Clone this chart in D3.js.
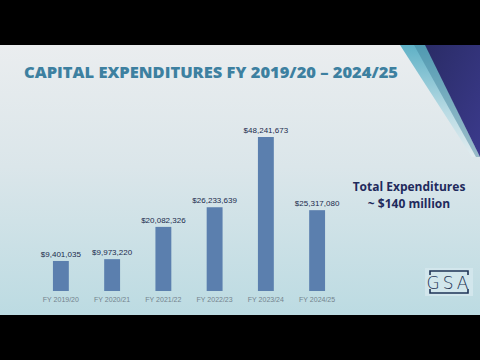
<!DOCTYPE html>
<html>
<head>
<meta charset="utf-8">
<script src="https://cdn.jsdelivr.net/npm/d3@7"></script>
<style>
  body { margin: 0; background: #000; }
  svg { display: block; }
</style>
</head>
<body>
<script>
var width = 480, height = 360;

// data
var years = ["FY 2019/20", "FY 2020/21", "FY 2021/22", "FY 2022/23", "FY 2023/24", "FY 2024/25"];
var spend = [9401035, 9973220, 20082326, 26233639, 48241673, 25317080];
var totalLines = ["Total Expenditures", "~ $140 million"];

var svg = d3.select("body").append("svg")
    .attr("width", width)
    .attr("height", height);

var defs = svg.append("defs");

var bg = defs.append("linearGradient").attr("id", "bg")
    .attr("x1", 0).attr("y1", 0).attr("x2", 0).attr("y2", 1);
bg.append("stop").attr("offset", "0%").attr("stop-color", "#eaedef");
bg.append("stop").attr("offset", "45%").attr("stop-color", "#dbe6ea");
bg.append("stop").attr("offset", "100%").attr("stop-color", "#bcdbe2");

var navy = defs.append("linearGradient").attr("id", "navy")
    .attr("x1", 0).attr("y1", 0).attr("x2", 1).attr("y2", 1);
navy.append("stop").attr("offset", "0%").attr("stop-color", "#2a2c66");
navy.append("stop").attr("offset", "100%").attr("stop-color", "#3b3a8c");

var teal = defs.append("linearGradient").attr("id", "teal")
    .attr("x1", 0).attr("y1", 0).attr("x2", 0).attr("y2", 1);
teal.append("stop").attr("offset", "0%").attr("stop-color", "#5fb1c6");
teal.append("stop").attr("offset", "60%").attr("stop-color", "#b9dbe4");
teal.append("stop").attr("offset", "100%").attr("stop-color", "#e2ecef");

// slide area between the black bands
var slideTop = 45, slideBottom = 315;
svg.append("rect")
    .attr("x", 0).attr("y", slideTop)
    .attr("width", width).attr("height", slideBottom - slideTop)
    .attr("fill", "url(#bg)");

// corner decoration
var line = d3.line();
svg.append("path")
    .attr("d", line([[400, slideTop], [426, slideTop], [480, 157], [472, 157]]) + "Z")
    .attr("fill", "url(#teal)");
svg.append("path")
    .attr("d", line([[414, slideTop], [426, slideTop], [480, 157], [476, 157]]) + "Z")
    .attr("fill", "#3f7f9a").attr("opacity", 0.45);
svg.append("path")
    .attr("d", line([[425, slideTop], [480, slideTop], [480, 157]]) + "Z")
    .attr("fill", "url(#navy)");

// title
svg.append("text")
    .attr("x", 24).attr("y", 78)
    .attr("textLength", 374)
    .attr("lengthAdjust", "spacingAndGlyphs")
    .style("font-family", "'Open Sans', sans-serif")
    .style("font-weight", 800)
    .style("font-size", "16px")
    .attr("fill", "#3d80a0")
    .text("CAPITAL EXPENDITURES FY 2019/20 \u2013 2024/25");

// bar chart
var x = d3.scaleBand()
    .domain(years)
    .range([35, 343])
    .paddingInner(0.69)
    .paddingOuter(0.35);

var y = d3.scaleLinear()
    .domain([0, 48241673])
    .range([291, 137]);

var fmt = d3.format("$,");

var g = svg.append("g");

g.selectAll(".bar")
    .data(spend)
    .enter().append("rect")
    .attr("class", "bar")
    .attr("x", function (d, i) { return x(years[i]); })
    .attr("y", function (d) { return y(d); })
    .attr("width", x.bandwidth())
    .attr("height", function (d) { return y(0) - y(d); })
    .attr("fill", "#5b7fae");

g.selectAll(".val")
    .data(spend)
    .enter().append("text")
    .attr("class", "val")
    .attr("x", function (d, i) { return x(years[i]) + x.bandwidth() / 2; })
    .attr("y", function (d) { return y(d) - 4; })
    .attr("text-anchor", "middle")
    .style("font-family", "'Liberation Sans', sans-serif")
    .style("font-size", "8px")
    .attr("fill", "#1b2a4c")
    .text(function (d) { return fmt(d); });

g.selectAll(".cat")
    .data(years)
    .enter().append("text")
    .attr("class", "cat")
    .attr("x", function (d) { return x(d) + x.bandwidth() / 2; })
    .attr("y", 302)
    .attr("text-anchor", "middle")
    .style("font-family", "'Liberation Sans', sans-serif")
    .style("font-size", "7px")
    .attr("fill", "#74838d")
    .text(function (d) { return d; });

// total note
svg.selectAll(".total")
    .data(totalLines)
    .enter().append("text")
    .attr("class", "total")
    .attr("x", 409)
    .attr("y", function (d, i) { return 191 + i * 16.5; })
    .attr("text-anchor", "middle")
    .style("font-family", "'Open Sans', sans-serif")
    .style("font-weight", 700)
    .style("font-size", "12px")
    .attr("fill", "#1f2a5c")
    .text(function (d) { return d; });

// GSA logo
var logo = svg.append("g").attr("transform", "translate(449,282)");
logo.append("rect")
    .attr("x", -24).attr("y", -14).attr("width", 48).attr("height", 28)
    .attr("fill", "#d2e6ec");
logo.append("path")
    .attr("d", "M-19,-7 L-19,-11 L19,-11 L19,-7 M-19,7 L-19,11 L19,11 L19,7")
    .attr("fill", "none").attr("stroke", "#1e3355").attr("stroke-width", 1.6);
logo.append("text")
    .attr("x", 0).attr("y", 6.5)
    .attr("text-anchor", "middle")
    .style("font-family", "'DejaVu Sans', sans-serif")
    .style("font-weight", 300)
    .style("font-size", "17px")
    .style("letter-spacing", "3px")
    .attr("fill", "#1e3355")
    .text("GSA");
</script>
</body>
</html>
